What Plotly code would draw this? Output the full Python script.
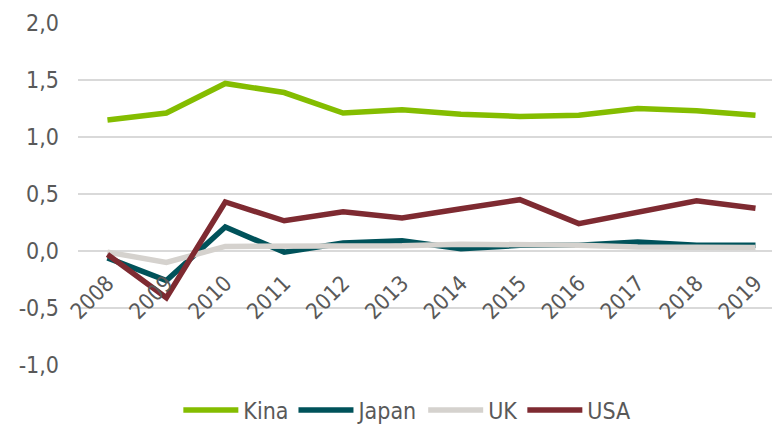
import plotly.graph_objects as go

years = ["2008", "2009", "2010", "2011", "2012", "2013", "2014", "2015", "2016", "2017", "2018", "2019"]
kina = [1.15, 1.21, 1.47, 1.39, 1.21, 1.24, 1.20, 1.18, 1.19, 1.25, 1.23, 1.19]
japan = [-0.06, -0.26, 0.21, -0.01, 0.07, 0.09, 0.02, 0.05, 0.05, 0.08, 0.05, 0.05]
uk = [-0.01, -0.10, 0.04, 0.04, 0.04, 0.045, 0.06, 0.06, 0.05, 0.035, 0.03, 0.03]
usa = [-0.03, -0.41, 0.43, 0.265, 0.345, 0.29, 0.37, 0.45, 0.24, 0.34, 0.44, 0.375]

y_ticks = [-1.0, -0.5, 0.0, 0.5, 1.0, 1.5, 2.0]
y_tick_labels = ["-1,0", "-0,5", "0,0", "0,5", "1,0", "1,5", "2,0"]

series = [
    ("Kina", kina, "#84bd00"),
    ("Japan", japan, "#00525a"),
    ("UK", uk, "#d5d2ce"),
    ("USA", usa, "#7e2a31"),
]

FONT = "DejaVu Sans Condensed"
GRAY = "#595959"

fig = go.Figure()
for name, vals, col in series:
    fig.add_trace(go.Scatter(
        x=years, y=vals, name=name, mode="lines",
        line=dict(color=col, width=5.5),
    ))

fig.update_layout(
    width=772, height=425,
    margin=dict(l=78, r=0, t=23, b=60, autoexpand=False),
    paper_bgcolor="white", plot_bgcolor="white",
    font=dict(family=FONT, color=GRAY, size=22),
    showlegend=True,
    legend=dict(
        orientation="h", xref="container", yref="container",
        x=0.527, xanchor="center", y=0.035, yanchor="middle",
        font=dict(family=FONT, size=23, color=GRAY),
        itemwidth=55, tracegroupgap=0,
    ),
    xaxis=dict(
        type="category", range=[-0.5, 11.28],
        anchor="free", position=1/3, automargin=False,
        showgrid=False, showline=False, zeroline=False,
        tickangle=-45, ticks="", ticklabelstandoff=14,
        tickfont=dict(family=FONT, size=22, color=GRAY),
    ),
    yaxis=dict(
        range=[-1.0, 2.0], tickvals=y_ticks, ticktext=y_tick_labels,
        automargin=False,
        showgrid=True, gridcolor="#d9d9d9", gridwidth=2,
        zeroline=False, showline=False, ticks="", ticklabelstandoff=18,
        tickfont=dict(family=FONT, size=23, color=GRAY),
    ),
)

fig.write_html(
    "out.html",
    config={"displayModeBar": False},
    post_script="document.body.style.margin='0';document.body.style.overflow='hidden';",
)
